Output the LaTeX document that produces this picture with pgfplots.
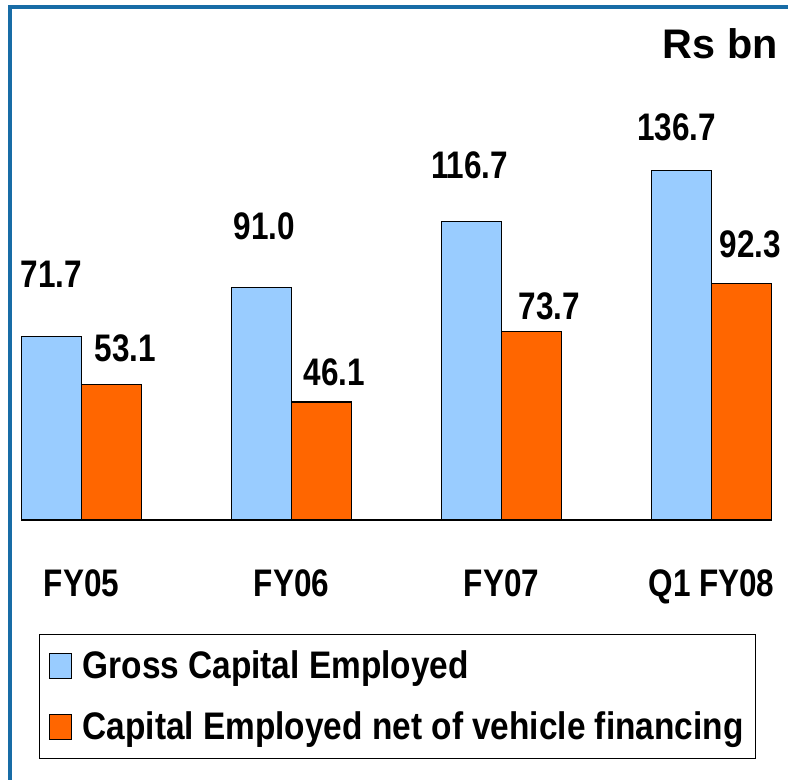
\documentclass[border=0pt]{standalone}
\usepackage{fontspec}
\setmainfont{Liberation Sans}
\newfontfamily\nb{Liberation Sans}[FakeStretch=0.82]
\newfontfamily\legf{Liberation Sans}[FakeStretch=0.87]
\usepackage{pgfplots}
\usepackage{pgfplotstable}
\pgfplotsset{compat=1.18}
\definecolor{gce}{RGB}{153,204,255}
\definecolor{cen}{RGB}{255,102,0}
\definecolor{framec}{RGB}{24,108,166}

\pgfplotstableread{
x y
0 71.7
1 91.0
2 116.7
3 136.7
}\gross
\pgfplotstableread{
x y
0 53.1
1 46.1
2 73.7
3 92.3
}\net
% label positions (text layer)
\pgfplotstableread{
lx ly v
-0.143 95.9 71.7
0.871 114.8 91.0
1.848 138.6 116.7
2.833 153.5 136.7
0.210 67.2 53.1
1.205 57.8 46.1
2.229 83.5 73.7
3.186 107.5 92.3
}\labels

\begin{document}
\begin{tikzpicture}
\path[use as bounding box] (0pt,0pt) rectangle (591pt,584.25pt);
\draw[framec, line width=2.6pt] (7.5pt,-4pt) -- (7.5pt,579pt) -- (596pt,579pt);
\node[anchor=east, inner sep=0pt, font=\bfseries\fontsize{31}{36}\selectfont] at (583.5pt,551.6pt) {Rs bn};
\begin{axis}[
 at={(17.03pt,194.25pt)}, anchor=south west,
 x=157.5pt, y=1.92pt,
 xmin=-0.28, xmax=3.29, ymin=0, ymax=196,
 axis x line=bottom, axis y line=none,
 x axis line style={-, line width=1.5pt},
 xtick={0,1,2,3}, xticklabels={FY05,FY06,FY07,Q1 FY08},
 ytick=\empty,
 major tick length=0pt,
 xticklabel style={anchor=north, inner sep=0pt, yshift=-37pt, font=\nb\bfseries\fontsize{28.8}{34}\selectfont},
 clip=false,
 ybar, bar width=0.2857,
 /pgf/number format/assume math mode=true,
 legend style={at={(0.02174,-0.4763)}, anchor=south west, draw=black, line width=0.8pt,
   font=\legf\bfseries\fontsize{28.8}{34}\selectfont,
   inner xsep=7pt, inner ysep=10.4pt, row sep=19.5pt,
   /tikz/every odd column/.append style={column sep=6pt},
   cells={anchor=west}},
 legend cell align=left,
 sq/.style={legend image code/.code={\draw[##1, draw=black, line width=0.8pt] (0pt,-9.4pt) rectangle (16.5pt,9.4pt);}},
]
\addplot[fill=gce, draw=black, line width=0.8pt, bar shift=-0.14286, sq] table[x=x,y=y]{\gross};
\addplot[fill=cen, draw=black, line width=0.8pt, bar shift=0.14286, sq] table[x=x,y=y]{\net};
\legend{Gross Capital Employed, Capital Employed net of vehicle financing}
\addplot[draw=none, fill=none, bar shift=0, forget plot, point meta=explicit,
  nodes near coords={\pgfmathprintnumber[fixed,zerofill,precision=1]{\pgfplotspointmeta}},
  nodes near coords style={anchor=center, inner sep=0pt, text=black, font=\nb\bfseries\fontsize{28.8}{34}\selectfont}]
  table[x=lx, y=ly, meta=v]{\labels};
\end{axis}
\end{tikzpicture}
\end{document}
